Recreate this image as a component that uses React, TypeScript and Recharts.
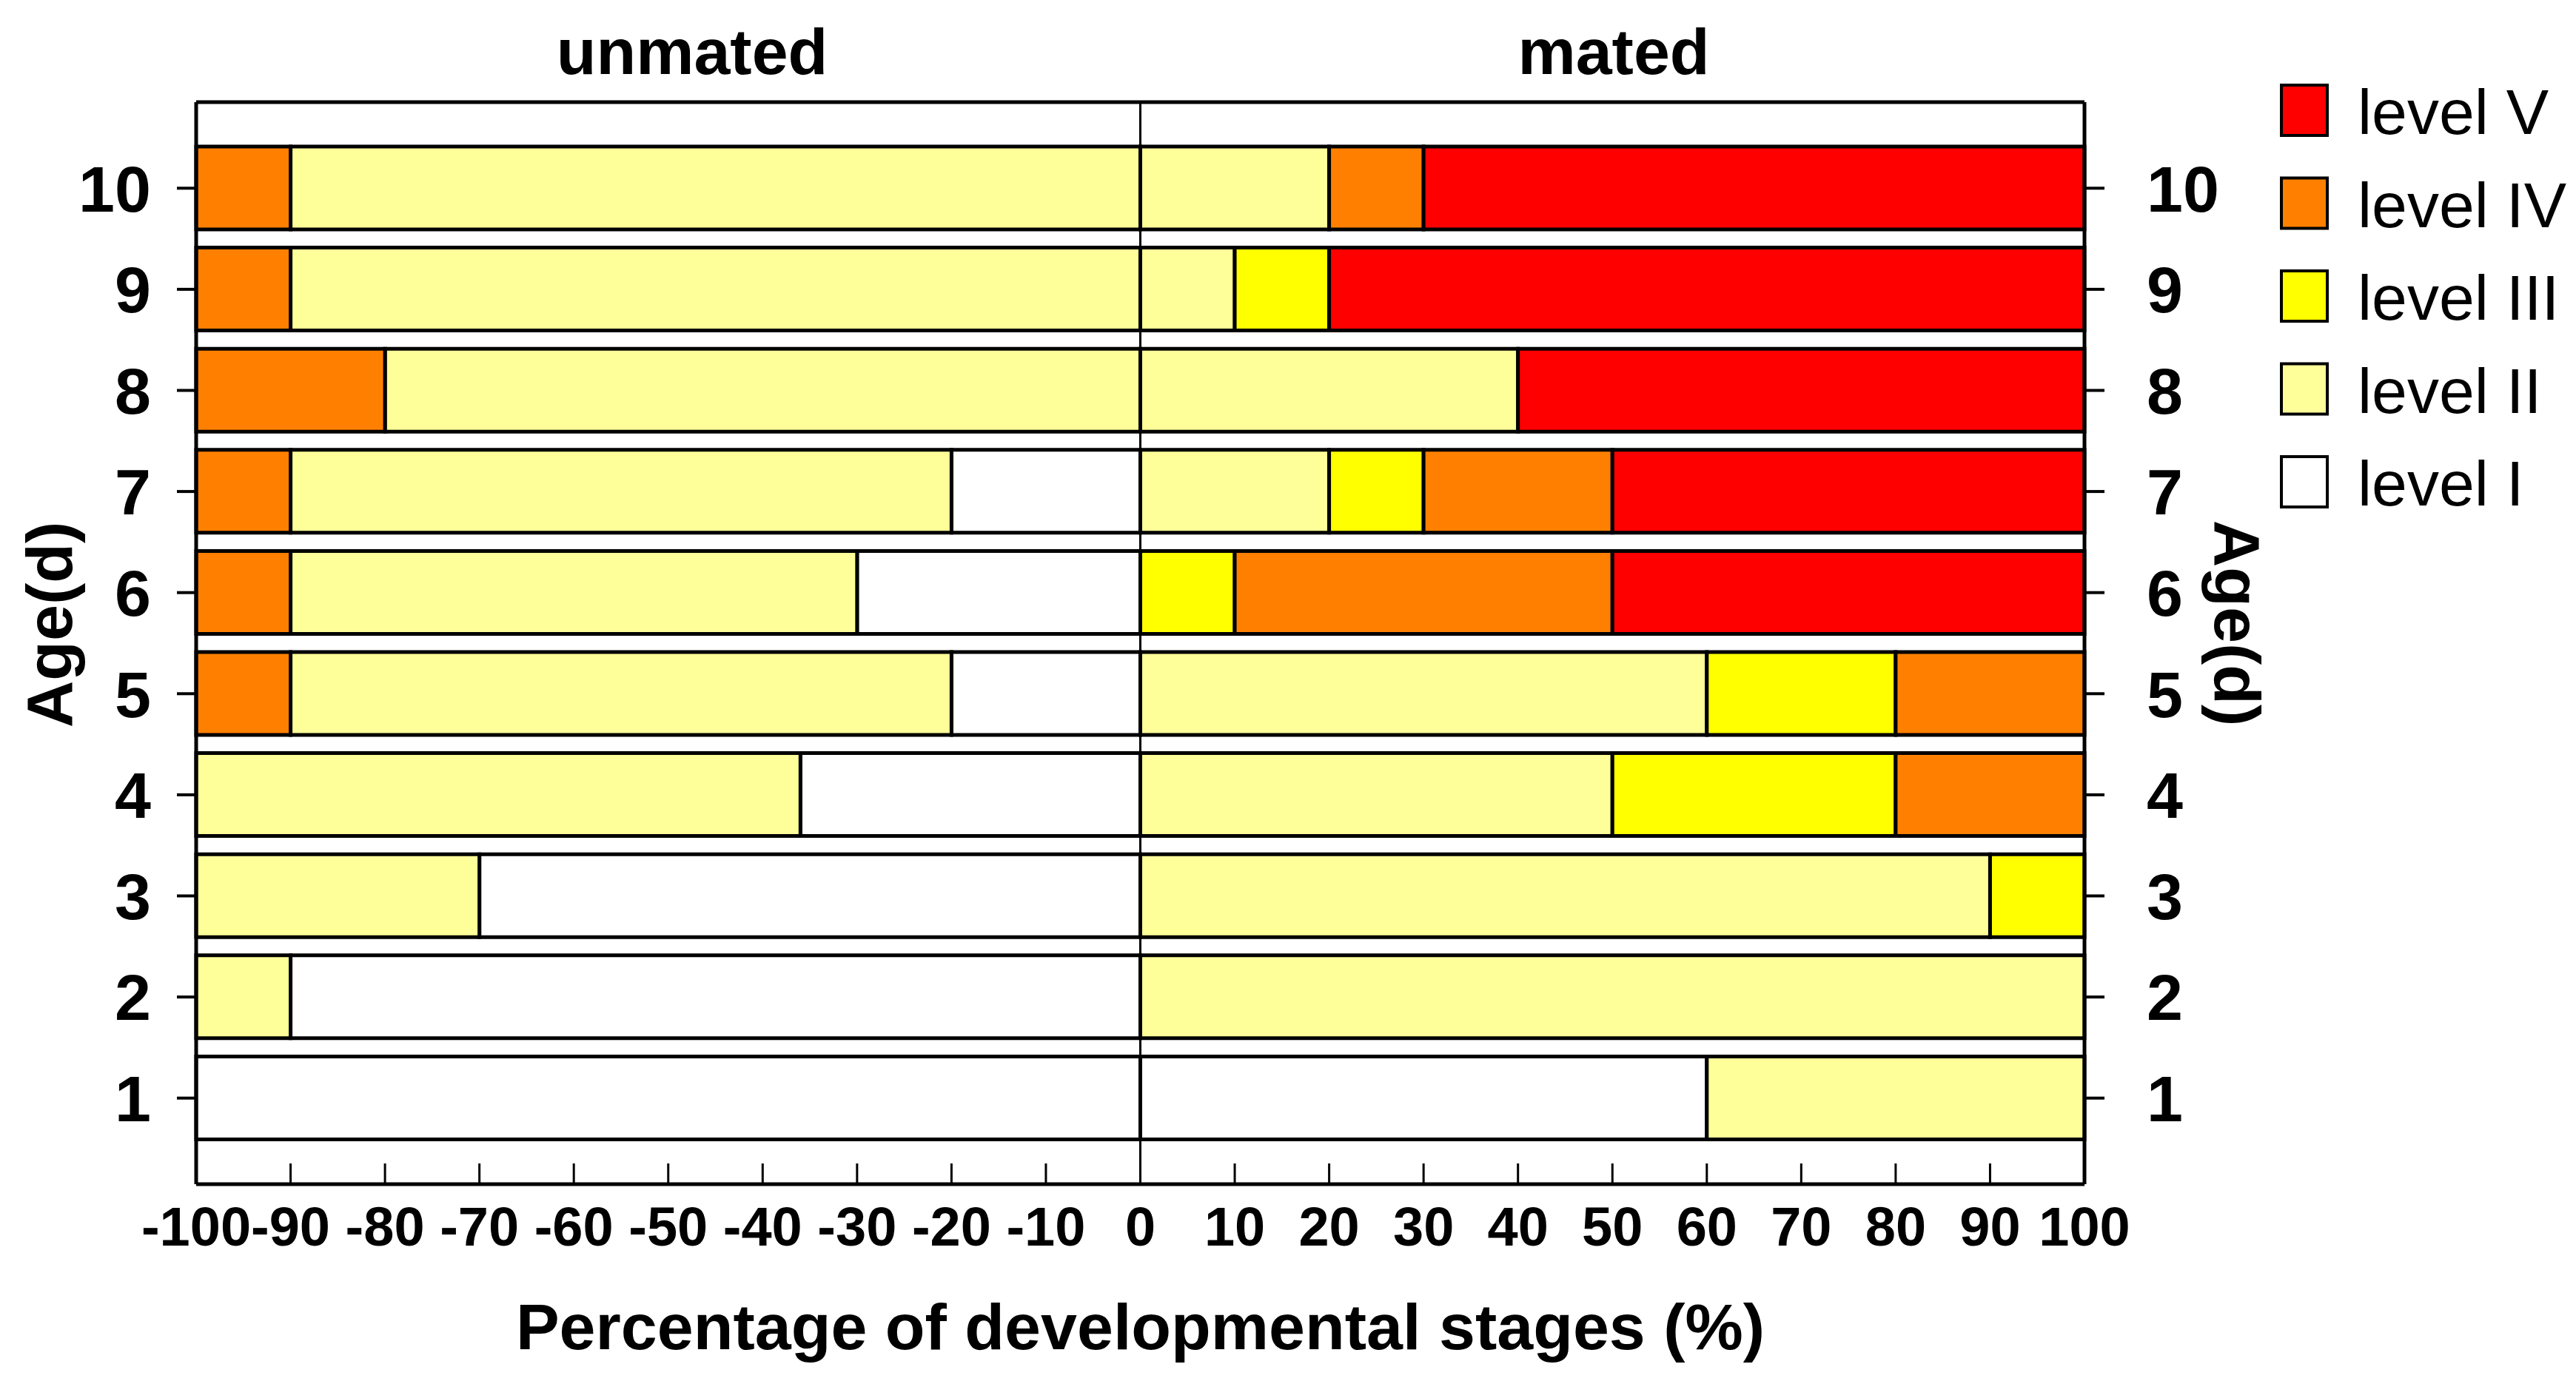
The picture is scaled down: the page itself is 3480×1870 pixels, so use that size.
import { Bar, BarChart, Legend, ReferenceLine, XAxis, YAxis } from "recharts"

// rows top to bottom, age in days
const ages = ["10", "9", "8", "7", "6", "5", "4", "3", "2", "1"]
const levels = ["level I", "level II", "level III", "level IV", "level V"]
const levelColors = ["#FFFFFF", "#FFFF99", "#FFFF00", "#FF8000", "#FF0000"]

// unmated, % per level (drawn to the left of 0)
const unmatedI = [0, 0, 0, 20, 30, 20, 36, 70, 90, 100]
const unmatedII = [90, 90, 80, 70, 60, 70, 64, 30, 10, 0]
const unmatedIII = [0, 0, 0, 0, 0, 0, 0, 0, 0, 0]
const unmatedIV = [10, 10, 20, 10, 10, 10, 0, 0, 0, 0]
const unmatedV = [0, 0, 0, 0, 0, 0, 0, 0, 0, 0]

// mated, % per level (drawn to the right of 0)
const matedI = [0, 0, 0, 0, 0, 0, 0, 0, 0, 60]
const matedII = [20, 10, 40, 20, 0, 60, 50, 90, 100, 40]
const matedIII = [0, 10, 0, 10, 10, 20, 30, 10, 0, 0]
const matedIV = [10, 0, 0, 20, 40, 20, 20, 0, 0, 0]
const matedV = [70, 80, 60, 50, 50, 0, 0, 0, 0, 0]

const xTicks = [-100, -90, -80, -70, -60, -50, -40, -30, -20, -10, 0, 10, 20, 30, 40, 50, 60, 70, 80, 90, 100]

const unmated = [unmatedI, unmatedII, unmatedIII, unmatedIV, unmatedV]
const mated = [matedI, matedII, matedIII, matedIV, matedV]

const data = ages.map((age, i) => {
  const row: Record<string, string | number> = { age }
  levels.forEach((_, l) => {
    row[`u${l}`] = -unmated[l][i]
    row[`m${l}`] = mated[l][i]
  })
  return row
})

const FONT = '"Liberation Sans", Arial, Helvetica, sans-serif'
const W = 3480
const H = 1870
const PLOT = { left: 265, right: 2816, top: 138, bottom: 1600 }
const Y_AXIS_W = 200
const X_TOP_H = 30
const X_BOTTOM_H = 200
const TICK_IN = 28

const margin = {
  top: PLOT.top - X_TOP_H,
  bottom: H - PLOT.bottom - X_BOTTOM_H,
  left: PLOT.left - Y_AXIS_W,
  right: W - PLOT.right - Y_AXIS_W,
}

function BottomTick(props: any) {
  const { x, y, payload } = props
  return (
    <g>
      <line x1={x} x2={x} y1={y} y2={y - TICK_IN} stroke="#000" strokeWidth={3} />
      <text x={x} y={y + 83} textAnchor="middle" fontFamily={FONT} fontWeight="bold" fontSize={74} fill="#000">
        {payload.value}
      </text>
    </g>
  )
}

function TopTick(props: any) {
  const { x, y } = props
  return <line x1={x} x2={x} y1={y} y2={y + TICK_IN} stroke="#000" strokeWidth={3} />
}

function LevelLegend(props: any) {
  const entries = (props.payload || []).filter((p: any) => p.type !== "none").slice().reverse()
  return (
    <svg width={400} height={640} style={{ display: "block" }}>
      {entries.map((entry: any, i: number) => {
        const cy = 49 + i * 125.5
        const idx = levels.indexOf(entry.value)
        return (
          <g key={entry.value}>
            <rect x={12} y={cy - 34} width={62} height={68} fill={levelColors[idx] ?? entry.color} stroke="#000" strokeWidth={4} />
            <text x={115} y={cy + 32} fontFamily={FONT} fontSize={86} fill="#000">
              {entry.value}
            </text>
          </g>
        )
      })}
    </svg>
  )
}

const axisLine = { stroke: "#000", strokeWidth: 5 }
const yTick = { fontSize: 88, fontWeight: "bold", fill: "#000", fontFamily: FONT }

export default function App() {
  return (
    <div style={{ position: "absolute", left: 0, top: 0, width: W, height: H, overflow: "hidden", background: "#fff" }}>
      <BarChart
        width={W}
        height={H}
        data={data}
        layout="vertical"
        stackOffset="sign"
        barSize={112}
        margin={margin}
      >
        {unmated.map((_, l) => (
          <Bar
            key={`u${l}`}
            dataKey={`u${l}`}
            name={`unmated ${levels[l]}`}
            stackId="s"
            xAxisId="bottom"
            yAxisId="left"
            fill={levelColors[l]}
            stroke="#000"
            strokeWidth={5}
            legendType="none"
            isAnimationActive={false}
          />
        ))}
        {mated.map((_, l) => (
          <Bar
            key={`m${l}`}
            dataKey={`m${l}`}
            name={levels[l]}
            stackId="s"
            xAxisId="bottom"
            yAxisId="left"
            fill={levelColors[l]}
            stroke="#000"
            strokeWidth={5}
            legendType="square"
            isAnimationActive={false}
          />
        ))}
        <ReferenceLine x={0} xAxisId="bottom" yAxisId="left" stroke="#000" strokeWidth={3} />
        <XAxis
          xAxisId="bottom"
          type="number"
          domain={[-100, 100]}
          ticks={xTicks}
          interval={0}
          height={X_BOTTOM_H}
          axisLine={axisLine}
          tickLine={false}
          tickSize={0}
          tickMargin={0}
          tick={(p: any) => <BottomTick {...p} />}
          label={() => (
            <text x={(PLOT.left + PLOT.right) / 2} y={1823} textAnchor="middle" fontFamily={FONT} fontWeight="bold" fontSize={88} fill="#000">
              Percentage of developmental stages (%)
            </text>
          )}
        />
        <XAxis
          xAxisId="top"
          orientation="top"
          type="number"
          domain={[-100, 100]}
          ticks={xTicks}
          interval={0}
          height={X_TOP_H}
          axisLine={axisLine}
          tickLine={false}
          tickSize={0}
          tickMargin={0}
          tick={(p: any) => <TopTick {...p} />}
          label={() => (
            <g fontFamily={FONT} fontWeight="bold" fontSize={88} fill="#000">
              <text x={935} y={100} textAnchor="middle">unmated</text>
              <text x={2180} y={100} textAnchor="middle">mated</text>
            </g>
          )}
        />
        <YAxis
          yAxisId="left"
          type="category"
          dataKey="age"
          width={Y_AXIS_W}
          padding={{ top: 48, bottom: 48 }}
          axisLine={axisLine}
          tickLine={{ stroke: "#000", strokeWidth: 4 }}
          tickSize={26}
          tickMargin={35}
          tick={yTick}
          interval={0}
          label={() => (
            <text x={97} y={844} transform="rotate(-90 97 844)" textAnchor="middle" fontFamily={FONT} fontWeight="bold" fontSize={88} fill="#000">
              Age(d)
            </text>
          )}
        />
        <YAxis
          yAxisId="right"
          orientation="right"
          type="category"
          dataKey="age"
          width={Y_AXIS_W}
          padding={{ top: 48, bottom: 48 }}
          axisLine={axisLine}
          tickLine={{ stroke: "#000", strokeWidth: 4 }}
          tickSize={27}
          tickMargin={57}
          tick={yTick}
          interval={0}
          label={() => (
            <text x={2992} y={842} transform="rotate(90 2992 842)" textAnchor="middle" fontFamily={FONT} fontWeight="bold" fontSize={88} fill="#000">
              Age(d)
            </text>
          )}
        />
        <Legend
          layout="vertical"
          align="center"
          verticalAlign="middle"
          width={400}
          height={640}
          wrapperStyle={{ left: 3070, top: 100 }}
          content={(p: any) => <LevelLegend {...p} />}
        />
      </BarChart>
    </div>
  )
}
